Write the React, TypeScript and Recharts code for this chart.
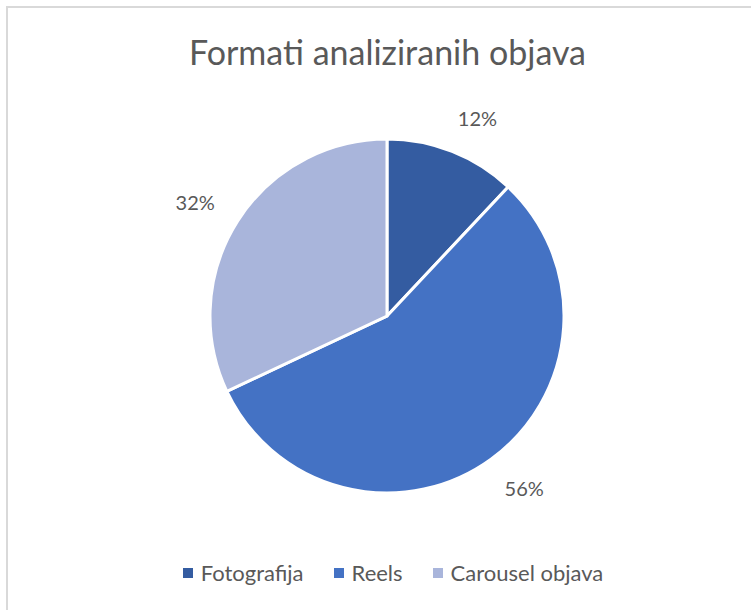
import React from "react";
import { PieChart, Pie, Cell, Legend } from "recharts";

const categories = ["Fotografija", "Reels", "Carousel objava"];
const values = [12, 56, 32];
const colors = ["#345CA1", "#4472C4", "#A9B5DB"];
const title = "Formati analiziranih objava";

const data = categories.map((name, i) => ({ name, value: values[i] }));
const FONT = "Lato, 'Open Sans', sans-serif";
const TEXT = "#595959";
const RAD = Math.PI / 180;

const renderLabel = (props: any) => {
  const { cx, cy, midAngle, outerRadius, percent } = props;
  const r = outerRadius + 36;
  const c = Math.cos(-midAngle * RAD);
  const x = cx + r * c + (c >= 0 ? 12 : -12);
  const y = cy + r * Math.sin(-midAngle * RAD);
  return (
    <text x={x} y={y} fill={TEXT} fontSize={20} fontFamily={FONT} textAnchor="middle" dominantBaseline="central">
      {`${Math.round(percent * 100)}%`}
    </text>
  );
};

const renderLegend = () => (
  <div style={{ display: "flex", justifyContent: "center", gap: 30, fontFamily: FONT, fontSize: 22, color: TEXT }}>
    {categories.map((name, i) => (
      <div key={name} style={{ display: "flex", alignItems: "center" }}>
        <span style={{ display: "inline-block", width: 10, height: 10, background: colors[i], marginRight: 8 }} />
        <span>{name}</span>
      </div>
    ))}
  </div>
);

export default function App() {
  return (
    <div style={{ position: "fixed", left: 0, top: 0, width: 751, height: 610, overflow: "hidden", background: "#fff" }}>
      <div style={{ position: "absolute", left: 0, top: 32, width: 775, textAlign: "center", fontFamily: FONT, fontSize: 34, color: TEXT, lineHeight: "40px" }}>
        {title}
      </div>
      <div style={{ position: "absolute", left: 0, top: 0 }}>
        <PieChart width={751} height={610} margin={{ top: 0, right: 0, bottom: 0, left: 0 }}>
          <Pie
            data={data}
            dataKey="value"
            nameKey="name"
            cx={387}
            cy={316}
            outerRadius={177}
            startAngle={90}
            endAngle={-270}
            stroke="#FFFFFF"
            strokeWidth={3}
            label={renderLabel}
            labelLine={false}
            isAnimationActive={false}
          >
            {data.map((d, i) => (
              <Cell key={d.name} fill={colors[i]} />
            ))}
          </Pie>
          <Legend content={renderLegend} wrapperStyle={{ position: "absolute", top: 559, left: 0, width: 786 }} />
        </PieChart>
      </div>
      <div style={{ position: "absolute", left: 6, top: 6, width: 745, height: 2, background: "#D9D9D9", zIndex: 5 }} />
      <div style={{ position: "absolute", left: 6, top: 6, width: 2, height: 604, background: "#D9D9D9", zIndex: 5 }} />
    </div>
  );
}
